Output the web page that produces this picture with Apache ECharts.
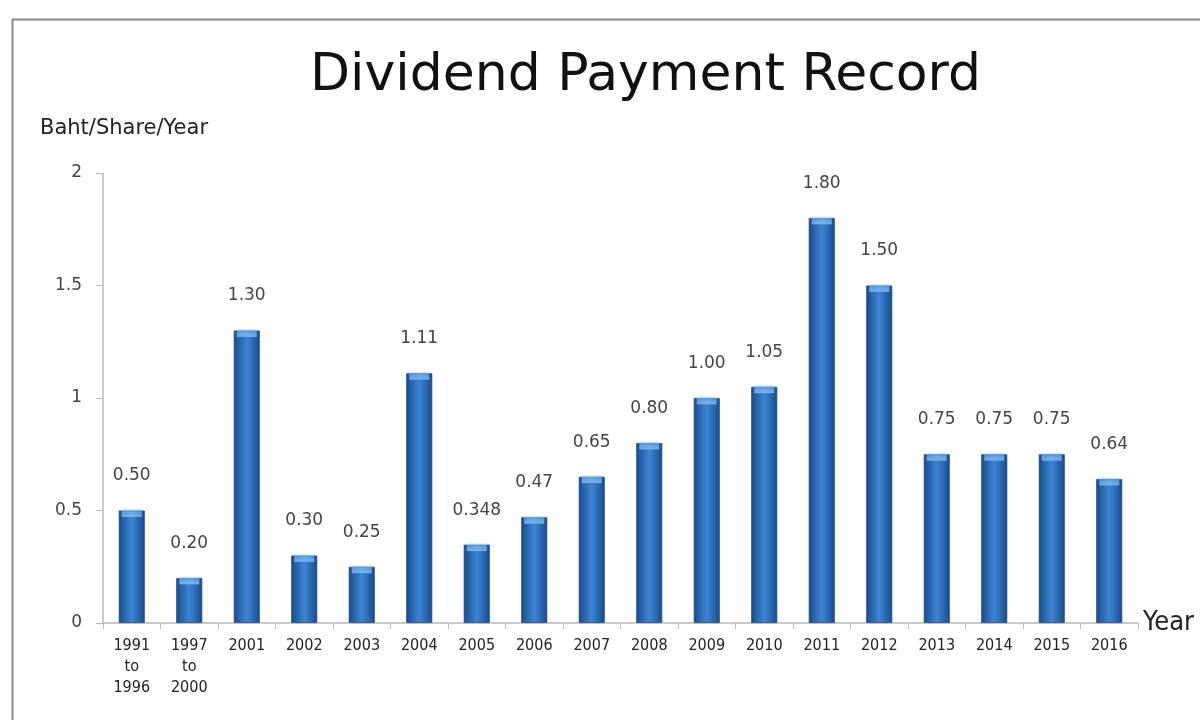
<!DOCTYPE html>
<html>
<head>
<meta charset="utf-8">
<script src="https://cdn.jsdelivr.net/npm/echarts@6/dist/echarts.min.js"></script>
<style>
html,body{margin:0;padding:0;background:#fff;}
#chart{width:1200px;height:720px;}
</style>
</head>
<body>
<div id="chart"></div>
<script>
var categories = ['1991\nto\n1996', '1997\nto\n2000', '2001', '2002', '2003', '2004', '2005', '2006', '2007', '2008', '2009', '2010', '2011', '2012', '2013', '2014', '2015', '2016'];
var dividends = [0.50, 0.20, 1.30, 0.30, 0.25, 1.11, 0.348, 0.47, 0.65, 0.80, 1.00, 1.05, 1.80, 1.50, 0.75, 0.75, 0.75, 0.64];
var valueLabels = ['0.50', '0.20', '1.30', '0.30', '0.25', '1.11', '0.348', '0.47', '0.65', '0.80', '1.00', '1.05', '1.80', '1.50', '0.75', '0.75', '0.75', '0.64'];
var yTicks = [0, 0.5, 1, 1.5, 2];

var chart = echarts.init(document.getElementById('chart'));
var barGrad = new echarts.graphic.LinearGradient(0, 0, 1, 0, [
  {offset: 0, color: '#1a4a86'},
  {offset: 0.25, color: '#2a69b4'},
  {offset: 0.5, color: '#3d85d2'},
  {offset: 0.75, color: '#2a69b4'},
  {offset: 1, color: '#1a4a86'}
]);
var capGrad = new echarts.graphic.LinearGradient(0, 0, 0, 1, [
  {offset: 0, color: 'rgba(150,200,245,0.3)'},
  {offset: 1, color: 'rgba(120,180,240,0.95)'}
]);
chart.setOption({
  backgroundColor: '#ffffff',
  animation: false,
  graphic: [{
    type: 'rect', left: 10, top: 17,
    shape: {width: 1200, height: 720},
    style: {fill: 'none', stroke: '#8a8a8a', lineWidth: 2}, silent: true
  }],
  title: [{
    text: 'Dividend Payment Record',
    left: 310, top: 50, padding: 0,
    textStyle: {fontFamily: 'DejaVu Sans', fontSize: 52, fontWeight: 'normal', color: '#111'}
  }, {
    text: 'Baht/Share/Year',
    left: 40, top: 118, padding: 0,
    textStyle: {fontFamily: 'DejaVu Sans', fontSize: 21, fontWeight: 'normal', color: '#222'}
  }],
  grid: {left: 103, right: 62, top: 173, bottom: 97, containLabel: false},
  xAxis: {
    type: 'category',
    data: categories,
    name: 'Year',
    nameLocation: 'end',
    nameGap: 5,
    nameTextStyle: {fontFamily: 'DejaVu Sans Condensed', fontSize: 27, color: '#222', verticalAlign: 'middle', padding: [0, 0, 4, 0]},
    axisLine: {lineStyle: {color: '#b8b8b8', width: 1.5}},
    axisTick: {show: true, alignWithLabel: false, length: 6, lineStyle: {color: '#b8b8b8'}},
    axisLabel: {fontFamily: 'DejaVu Sans Condensed', fontSize: 16, color: '#222', lineHeight: 21, margin: 12, interval: 0}
  },
  yAxis: {
    type: 'value',
    min: 0, max: 2, interval: 0.5,
    axisLine: {show: true, lineStyle: {color: '#b8b8b8', width: 1.5}},
    axisTick: {show: true, length: 7, lineStyle: {color: '#b8b8b8'}},
    splitLine: {show: false},
    axisLabel: {fontFamily: 'DejaVu Sans', fontSize: 17, color: '#444', margin: 21,
      formatter: function (v) { return yTicks.indexOf(v) >= 0 ? String(v) : ''; }}
  },
  series: [{
    type: 'bar',
    data: dividends,
    barWidth: 26,
    itemStyle: {color: barGrad, borderColor: '#1c4a84', borderWidth: 0.8},
    label: {
      show: true, position: 'top', distance: 26,
      fontFamily: 'DejaVu Sans', fontSize: 17, color: '#444',
      formatter: function (p) { return valueLabels[p.dataIndex]; }
    }
  }, {
    type: 'pictorialBar',
    data: dividends,
    symbol: 'ellipse',
    symbolPosition: 'end',
    symbolSize: [20, 8],
    symbolOffset: [0, '-20%'],
    barGap: '-100%',
    z: 3,
    silent: true,
    itemStyle: {color: capGrad}
  }]
});
</script>
</body>
</html>
